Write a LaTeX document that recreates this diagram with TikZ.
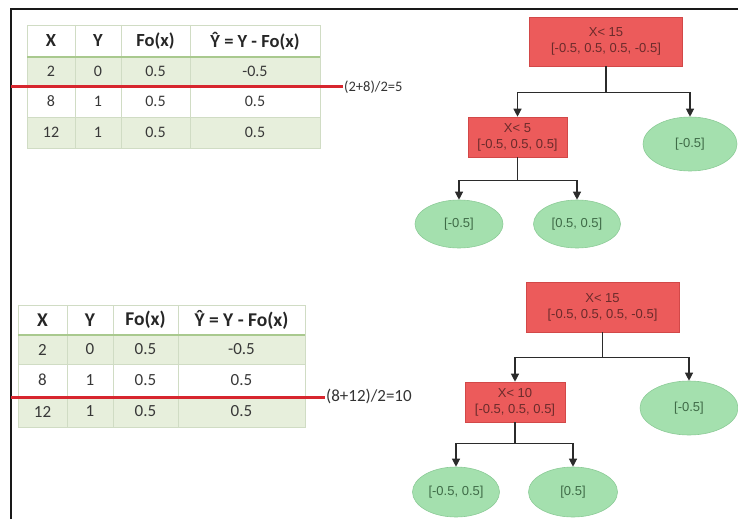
\documentclass[tikz,border=0pt]{standalone}
\usepackage{fontspec}
\setmainfont{Carlito}
\newfontfamily\treefont{Liberation Sans}
\usetikzlibrary{arrows.meta,shapes.geometric}

\definecolor{boxred}{HTML}{EC5B5B}
\definecolor{boxredline}{HTML}{D24848}
\definecolor{splittext}{HTML}{6B2B2B}
\definecolor{leafgreen}{HTML}{A4E0AE}
\definecolor{leafline}{HTML}{8CCB97}
\definecolor{leaftext}{HTML}{3F6B47}
\definecolor{rowgreen}{HTML}{E7EFDC}
\definecolor{gridline}{HTML}{D0DCC4}
\definecolor{headline}{HTML}{A9C98E}
\definecolor{cutred}{HTML}{D7262E}
\definecolor{linkgray}{HTML}{2B2B2B}

\begin{document}
\begin{tikzpicture}[x=1pt,y=-1pt,
  split/.style={rectangle, fill=boxred, draw=boxredline, line width=0.6pt,
    text=splittext, font=\treefont\fontsize{13}{16}\selectfont, align=center, inner sep=0pt},
  leaf/.style={ellipse, fill=leafgreen, draw=leafline, line width=0.6pt,
    text=leaftext, font=\treefont\fontsize{13}{16}\selectfont, inner sep=0pt},
  link/.style={draw=linkgray, line width=1.2pt, -{Triangle[length=8pt,width=8pt]}},
  hdA/.style={font=\bfseries\fontsize{18.5}{21}\selectfont, text=black!85},
  dtA/.style={font=\fontsize{16}{19}\selectfont, text=black!78},
  hdB/.style={font=\bfseries\fontsize{19.5}{22}\selectfont, text=black!85},
  dtB/.style={font=\fontsize{17}{20}\selectfont, text=black!78},
  cut/.style={draw=cutred, line width=3pt},
  cutlabel/.style={anchor=west, inner sep=1pt, text=black!80}
]
\useasboundingbox (0,0) rectangle (738,519);

% frame
\draw[line width=1.8pt, black!90] (11,519) -- (11,9) -- (738,9);

% ---------- first table ----------
\fill[rowgreen] (27,57) rectangle (320,86);
\fill[rowgreen] (27,117) rectangle (320,148);
\draw[gridline, line width=0.8pt] (27,25) rectangle (320,148);
\foreach \x in {75,121,190} \draw[gridline, line width=0.8pt] (\x,25) -- (\x,148);
\foreach \y in {86,117} \draw[gridline, line width=0.8pt] (27,\y) -- (320,\y);
\draw[headline, line width=1.6pt] (27,57) -- (320,57);

\node[hdA] (a00) at (51,41) {X};
\node[hdA] (a01) at (98,41) {Y};
\node[hdA] (a02) at (155.5,41) {Fo(x)};
\node[hdA] (a03) at (255,41) {Ŷ = Y - Fo(x)};
\node[dtA] (a10) at (51,71.5) {2};
\node[dtA] (a11) at (98,71.5) {0};
\node[dtA] (a12) at (155.5,71.5) {0.5};
\node[dtA] (a13) at (255,71.5) {-0.5};
\node[dtA] (a20) at (51,101.5) {8};
\node[dtA] (a21) at (98,101.5) {1};
\node[dtA] (a22) at (155.5,101.5) {0.5};
\node[dtA] (a23) at (255,101.5) {0.5};
\node[dtA] (a30) at (51,132.5) {12};
\node[dtA] (a31) at (98,132.5) {1};
\node[dtA] (a32) at (155.5,132.5) {0.5};
\node[dtA] (a33) at (255,132.5) {0.5};

\coordinate (cutA) at (11,86);
\node[cutlabel, font=\fontsize{14.5}{16}\selectfont] (fa) at (343,87) {(2+8)/2=5};
\draw[cut] (cutA) -- (fa.west |- cutA);

% ---------- second table ----------
\fill[rowgreen] (18,335) rectangle (305,364);
\fill[rowgreen] (18,396) rectangle (305,427);
\draw[gridline, line width=0.8pt] (18,305) rectangle (305,427);
\foreach \x in {67,113,178} \draw[gridline, line width=0.8pt] (\x,305) -- (\x,427);
\foreach \y in {364,396} \draw[gridline, line width=0.8pt] (18,\y) -- (305,\y);
\draw[headline, line width=1.6pt] (18,335) -- (305,335);

\node[hdB] (b00) at (42.5,320) {X};
\node[hdB] (b01) at (90,320) {Y};
\node[hdB] (b02) at (145.5,320) {Fo(x)};
\node[hdB] (b03) at (241.5,320) {Ŷ = Y - Fo(x)};
\node[dtB] (b10) at (42.5,349.5) {2};
\node[dtB] (b11) at (90,349.5) {0};
\node[dtB] (b12) at (145.5,349.5) {0.5};
\node[dtB] (b13) at (241.5,349.5) {-0.5};
\node[dtB] (b20) at (42.5,380) {8};
\node[dtB] (b21) at (90,380) {1};
\node[dtB] (b22) at (145.5,380) {0.5};
\node[dtB] (b23) at (241.5,380) {0.5};
\node[dtB] (b30) at (42.5,411.5) {12};
\node[dtB] (b31) at (90,411.5) {1};
\node[dtB] (b32) at (145.5,411.5) {0.5};
\node[dtB] (b33) at (241.5,411.5) {0.5};

\coordinate (cutB) at (11,397);
\node[cutlabel, font=\fontsize{17}{19}\selectfont] (fb) at (325,396) {(8+12)/2=10};
\draw[cut] (cutB) -- (fb.west |- cutB);

% ---------- first tree ----------
\node[split, minimum width=153pt, minimum height=49pt] (r1) at (606,41.5)
  {X< 15\\{[}-0.5, 0.5, 0.5, -0.5{]}};
\node[split, minimum width=99pt, minimum height=40pt] (c1) at (517.5,137)
  {X< 5\\{[}-0.5, 0.5, 0.5{]}};
\node[leaf, minimum width=94pt, minimum height=54pt] (e1) at (690,144) {{[}-0.5{]}};
\node[leaf, minimum width=88pt, minimum height=48pt] (l1) at (459,224) {{[}-0.5{]}};
\node[leaf, minimum width=87pt, minimum height=48pt] (l2) at (577,224) {{[}0.5, 0.5{]}};

\draw[link] (r1.south) -- ++(0,26) -| (c1.north);
\draw[link] (r1.south) -- ++(0,26) -| (e1.north);
\draw[link] (c1.south) -- ++(0,23) -| (l1.north);
\draw[link] (c1.south) -- ++(0,23) -| (l2.north);

% ---------- second tree ----------
\node[split, minimum width=153pt, minimum height=50pt] (r2) at (602.5,307)
  {X< 15\\{[}-0.5, 0.5, 0.5, -0.5{]}};
\node[split, minimum width=100pt, minimum height=40pt] (c2) at (515,402)
  {X< 10\\{[}-0.5, 0.5, 0.5{]}};
\node[leaf, minimum width=98pt, minimum height=54pt] (e2) at (689,408) {{[}-0.5{]}};
\node[leaf, minimum width=87pt, minimum height=50pt] (l3) at (456,492) {{[}-0.5, 0.5{]}};
\node[leaf, minimum width=89pt, minimum height=50pt] (l4) at (573,492) {{[}0.5{]}};

\draw[link] (r2.south) -- ++(0,25) -| (c2.north);
\draw[link] (r2.south) -- ++(0,25) -| (e2.north);
\draw[link] (c2.south) -- ++(0,21) -| (l3.north);
\draw[link] (c2.south) -- ++(0,21) -| (l4.north);
\end{tikzpicture}
\end{document}
